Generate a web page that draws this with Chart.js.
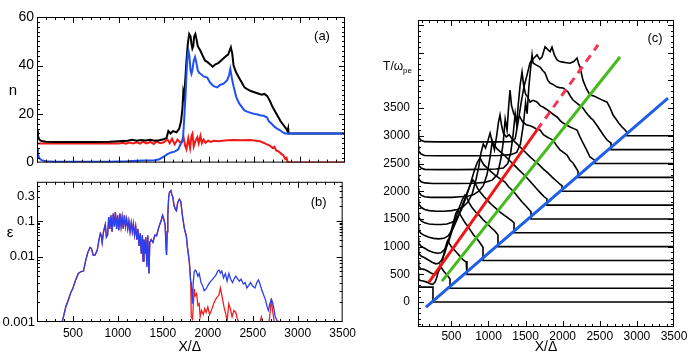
<!DOCTYPE html>
<html>
<head>
<meta charset="utf-8">
<script src="https://cdn.jsdelivr.net/npm/chart.js@4.4.1/dist/chart.umd.min.js"></script>
<style>
  body { margin: 0; background: #fff; }
  .panel { position: absolute; }
</style>
</head>
<body>
<div class="panel" style="left:0px;top:0px"><canvas id="chartA" width="360" height="174"></canvas></div>
<div class="panel" style="left:0px;top:172px"><canvas id="chartB" width="360" height="184"></canvas></div>
<div class="panel" style="left:360px;top:0px"><canvas id="chartC" width="330" height="356"></canvas></div>
<script>
// ---- panel (a): densities n(x) ----
var nBlack = [[100,13.3],[110,11],[125,9.5],[150,8.9],[200,8.6],[300,8.5],[500,8.5],[700,8.5],[900,8.6],[1000,8.8],[1100,9.0],[1150,9.4],[1200,9.0],[1250,9.3],[1300,9.1],[1350,9.4],[1400,9.0],[1450,9.2],[1500,9.6],[1530,10.2],[1550,13],[1575,12],[1600,13],[1640,12.5],[1670,14],[1690,17],[1705,22],[1715,29],[1725,27],[1735,33],[1750,42],[1765,49],[1780,53],[1795,52],[1805,49],[1815,47],[1825,48],[1835,52],[1848,53],[1860,51],[1875,48],[1890,47],[1905,46],[1930,44],[1955,42],[1980,41.5],[2010,40.5],[2040,39.5],[2070,40.5],[2100,41],[2130,42],[2160,43],[2190,44],[2210,44.5],[2225,46],[2240,47.5],[2255,45],[2270,40],[2300,37],[2330,35],[2360,33],[2390,31],[2420,30.3],[2460,29.5],[2500,29],[2540,28.5],[2580,28],[2610,28.3],[2640,27.5],[2670,25.5],[2700,23],[2730,21],[2760,19],[2790,17],[2820,15.5],[2850,14],[2865,13],[2872,14],[2875,12],[3500,12]];
var nBlue = [[100,5.5],[110,3.5],[125,1.8],[150,1.0],[200,0.6],[300,0.4],[500,0.3],[700,0.3],[900,0.4],[1100,0.6],[1200,0.8],[1300,0.9],[1400,1.0],[1450,1.4],[1500,2.5],[1540,3.5],[1580,4.2],[1620,4.5],[1660,5.5],[1690,8],[1710,9],[1725,18],[1740,28],[1752,38],[1763,44.6],[1772,46],[1782,44],[1795,38],[1805,36.6],[1815,38],[1830,42],[1845,43.5],[1860,41],[1875,38],[1890,37],[1905,36.6],[1940,35.5],[1980,35],[2010,33],[2050,31.5],[2090,31],[2120,32],[2160,32.5],[2200,34],[2220,36],[2234,38.6],[2250,35],[2270,31.5],[2300,27],[2330,24.5],[2360,23],[2390,21.5],[2420,21],[2460,20.5],[2500,20],[2528,19.9],[2560,19.5],[2600,19.3],[2638,18.7],[2660,17],[2690,16],[2720,14.8],[2750,14],[2784,13.3],[2810,12.5],[2840,12],[3500,12]];
var nRed = [[100,7.9],[300,7.9],[600,7.9],[900,8.0],[1000,7.9],[1050,8.2],[1080,7.8],[1120,8.3],[1160,7.9],[1200,8.4],[1240,7.8],[1270,8.6],[1310,7.9],[1350,8.5],[1390,7.7],[1420,8.7],[1460,8.0],[1500,8.4],[1540,9.5],[1565,8.0],[1590,9.8],[1620,7.5],[1650,9.5],[1690,8],[1717,10.5],[1735,7],[1750,5.5],[1770,10],[1790,6],[1805,11],[1816,12],[1830,6.7],[1850,9],[1870,10.5],[1885,8],[1904,11],[1920,8],[1940,9.5],[1960,8.2],[1990,9],[2020,8.5],[2050,9],[2100,8.8],[2150,9],[2200,9.2],[2270,9.3],[2350,9.2],[2454,9.3],[2520,9.0],[2560,8.8],[2600,8.2],[2638,7.5],[2670,7],[2700,6],[2720,6.5],[2740,5],[2770,4.5],[2800,3.5],[2820,3],[2840,1.5],[2855,2],[2865,0.5],[2872,0.3],[2875,0],[3500,0]];

// ---- panel (b): epsilon(x); blue and red coincide up to x~1810 ----
var epsShared = [[100,0.001],[380,0.001],[400,0.0013],[420,0.0017],[450,0.0022],[475,0.0028],[500,0.0033],[530,0.0044],[560,0.0055],[590,0.0059],[617,0.006],[640,0.0085],[665,0.013],[690,0.018],[705,0.017],[725,0.011],[745,0.011],[770,0.015],[790,0.03],[805,0.045],[815,0.04],[825,0.025],[840,0.05],[860,0.08],[872,0.035],[885,0.04],[898,0.12],[910,0.06],[922,0.13],[935,0.05],[948,0.14],[960,0.07],[972,0.15],[985,0.06],[997,0.13],[1010,0.055],[1022,0.14],[1035,0.07],[1047,0.12],[1060,0.06],[1072,0.13],[1085,0.07],[1097,0.11],[1110,0.06],[1122,0.1],[1135,0.05],[1148,0.09],[1160,0.05],[1172,0.085],[1185,0.04],[1198,0.07],[1210,0.03],[1222,0.06],[1235,0.02],[1248,0.045],[1260,0.012],[1272,0.04],[1280,0.0085],[1290,0.03],[1300,0.012],[1310,0.035],[1322,0.007],[1332,0.04],[1345,0.0055],[1355,0.025],[1370,0.03],[1390,0.025],[1410,0.04],[1430,0.038],[1450,0.06],[1465,0.08],[1480,0.1],[1497,0.13],[1510,0.11],[1525,0.08],[1535,0.02],[1541,0.011],[1548,0.05],[1555,0.13],[1565,0.3],[1574,0.37],[1590,0.4],[1600,0.33],[1610,0.3],[1625,0.2],[1640,0.17],[1651,0.16],[1665,0.23],[1684,0.27],[1700,0.24],[1717,0.13],[1740,0.06],[1761,0.038],[1775,0.017],[1794,0.0085],[1810,0.004]];
var epsBlueTail = [[1816,0.004],[1827,0.0019],[1838,0.004],[1849,0.0058],[1860,0.0062],[1871,0.006],[1890,0.005],[1904,0.0055],[1925,0.004],[1945,0.0035],[1960,0.003],[1981,0.0032],[2000,0.0036],[2020,0.004],[2047,0.0044],[2070,0.0048],[2090,0.0052],[2110,0.006],[2124,0.0062],[2140,0.0056],[2155,0.006],[2175,0.0047],[2195,0.0055],[2215,0.0042],[2234,0.0055],[2255,0.0045],[2275,0.004],[2295,0.0046],[2311,0.005],[2330,0.0046],[2350,0.0042],[2370,0.0045],[2395,0.0038],[2415,0.004],[2435,0.0033],[2454,0.0036],[2475,0.004],[2500,0.0035],[2525,0.0033],[2545,0.004],[2564,0.0044],[2580,0.0038],[2597,0.0032],[2620,0.0026],[2641,0.0022],[2660,0.0017],[2674,0.0015],[2690,0.0019],[2707,0.0022],[2720,0.002],[2735,0.0016],[2750,0.0012],[2770,0.00105],[2800,0.001],[3500,0.001]];
var epsRedTail = [[1816,0.0012],[1830,0.0011],[1849,0.0032],[1860,0.0025],[1875,0.0027],[1890,0.0018],[1904,0.0019],[1915,0.0012],[1930,0.0015],[1950,0.0013],[1965,0.0016],[1981,0.0014],[2000,0.0017],[2020,0.0013],[2047,0.0016],[2065,0.0019],[2085,0.0022],[2105,0.0024],[2124,0.0026],[2140,0.0033],[2150,0.0028],[2165,0.0022],[2180,0.0017],[2201,0.0013],[2215,0.00105],[2234,0.0019],[2250,0.0016],[2270,0.0012],[2290,0.0015],[2311,0.0014],[2330,0.0011],[2344,0.001],[2580,0.001],[2597,0.0012],[2610,0.001],[2680,0.001],[2696,0.0015],[2707,0.0023],[2720,0.0015],[2740,0.001],[3500,0.001]];

// ---- panel (c): stacked profiles, one per time ----
var profileTimes = [0,250,500,750,1000,1250,1500,1750,2000,2250,2500,2750,3000];
var profileCurves = [
  [[50,270],[252,270],[252,0],[3500,0]],
  [[50,520],[60,420],[80,390],[120,380],[170,360],[210,330],[250,320],[280,360],[305,450],[325,560],[347,668],[370,610],[395,560],[420,520],[450,470],[481,420],[481,250],[3500,250]],
  [[50,760],[60,640],[85,600],[130,590],[180,560],[230,520],[280,500],[320,540],[360,640],[390,820],[420,980],[440,1080],[454,1119],[470,1060],[500,1000],[540,940],[580,880],[620,820],[660,760],[700,720],[710,740],[710,500],[3500,500]],
  [[50,980],[60,880],[90,830],[140,800],[190,760],[240,720],[290,690],[330,700],[370,760],[410,880],[450,1060],[490,1250],[530,1450],[560,1600],[589,1661],[610,1600],[640,1530],[680,1440],[720,1370],[760,1290],[800,1210],[840,1150],[880,1080],[910,1020],[926,990],[926,750],[3500,750]],
  [[50,1160],[60,1060],[90,1010],[140,970],[190,930],[250,900],[310,880],[360,890],[410,950],[460,1080],[510,1290],[560,1520],[610,1720],[650,1860],[684,1931],[710,1880],[740,1790],[780,1700],[830,1620],[880,1560],[930,1480],[980,1420],[1030,1350],[1080,1290],[1110,1240],[1128,1210],[1128,1000],[3500,1000]],
  [[50,1390],[60,1290],[90,1240],[140,1200],[200,1170],[260,1150],[330,1140],[400,1150],[460,1200],[520,1320],[580,1500],[640,1720],[700,1930],[750,2100],[791,2202],[820,2150],[850,2060],[890,1980],[940,1900],[990,1830],[1040,1760],[1100,1690],[1160,1620],[1220,1560],[1280,1500],[1320,1460],[1344,1430],[1344,1250],[3500,1250]],
  [[50,1620],[60,1530],[90,1470],[140,1430],[200,1410],[280,1400],[360,1400],[440,1410],[510,1440],[580,1520],[640,1680],[700,1900],[760,2150],[810,2380],[850,2520],[886,2600],[910,2540],[940,2470],[980,2420],[1030,2360],[1080,2300],[1130,2250],[1180,2200],[1223,2166],[1270,2080],[1317,2022],[1360,1960],[1398,1895],[1450,1810],[1492,1751],[1540,1680],[1573,1630],[1573,1500],[3500,1500]],
  [[50,1860],[60,1770],[90,1710],[140,1670],[200,1650],[300,1640],[400,1640],[500,1650],[580,1670],[650,1710],[720,1800],[780,1950],[830,2200],[870,2450],[900,2700],[930,2850],[960,2780],[990,2900],[1021,3050],[1045,2920],[1080,2830],[1120,2760],[1170,2700],[1220,2640],[1280,2560],[1340,2480],[1400,2400],[1460,2320],[1520,2240],[1580,2150],[1640,2060],[1700,1970],[1750,1900],[1788,1860],[1788,1750],[3500,1750]],
  [[50,2060],[60,1980],[90,1930],[140,1900],[220,1890],[350,1890],[500,1890],[620,1900],[720,1910],[800,1940],[870,2000],[930,2100],[980,2300],[1020,2600],[1050,2900],[1080,2750],[1110,3000],[1135,3250],[1155,3375],[1175,3200],[1200,3050],[1240,2980],[1280,3020],[1320,2940],[1380,2860],[1440,2780],[1500,2700],[1560,2620],[1620,2550],[1680,2480],[1740,2400],[1800,2330],[1860,2250],[1920,2180],[1970,2120],[1991,2100],[1991,2000],[3500,2000]],
  [[50,2300],[60,2220],[90,2170],[140,2150],[250,2140],[400,2140],[600,2140],[800,2145],[950,2160],[1050,2200],[1120,2300],[1170,2600],[1200,2900],[1225,3300],[1250,3100],[1270,3500],[1290,3827],[1310,3550],[1340,3400],[1380,3300],[1420,3350],[1460,3250],[1510,3200],[1560,3180],[1600,3159],[1650,3120],[1695,3105],[1740,3020],[1789,2978],[1830,2950],[1870,2924],[1920,2820],[1964,2744],[2010,2700],[2058,2653],[2100,2560],[2139,2509],[2180,2420],[2206,2360],[2206,2250],[3500,2250]],
  [[50,2560],[60,2470],[90,2420],[140,2395],[300,2390],[600,2390],[900,2395],[1100,2400],[1200,2420],[1260,2500],[1300,2700],[1330,3000],[1360,3400],[1380,3200],[1400,3550],[1425,3900],[1452,4151],[1475,3900],[1500,3750],[1530,3700],[1560,3610],[1600,3640],[1654,3610],[1700,3540],[1735,3520],[1780,3480],[1830,3430],[1880,3380],[1924,3340],[1970,3270],[2005,3231],[2050,3200],[2099,3159],[2150,3130],[2193,3105],[2230,2990],[2274,2870],[2320,2750],[2368,2617],[2410,2580],[2435,2560],[2435,2500],[3500,2500]],
  [[50,2820],[60,2720],[90,2670],[140,2645],[300,2640],[600,2640],[900,2640],[1150,2645],[1300,2660],[1380,2700],[1430,2850],[1470,3200],[1500,3600],[1520,3400],[1545,3900],[1570,4250],[1587,4460],[1600,4314],[1640,4280],[1695,4240],[1730,4180],[1762,4133],[1800,4000],[1830,3953],[1880,3920],[1924,3880],[1960,3870],[2005,3863],[2040,3830],[2072,3790],[2110,3700],[2139,3646],[2200,3580],[2274,3500],[2310,3430],[2342,3375],[2380,3320],[2409,3285],[2460,3190],[2503,3105],[2550,3010],[2598,2924],[2630,2890],[2651,2870],[2651,2750],[3500,2750]],
  [[50,3080],[60,2970],[90,2920],[140,2895],[300,2890],[600,2890],[900,2890],[1150,2890],[1300,2895],[1360,2950],[1400,3250],[1440,3600],[1480,3900],[1520,4100],[1560,4320],[1610,4400],[1654,4460],[1690,4380],[1721,4420],[1762,4608],[1803,4550],[1830,4520],[1856,4600],[1890,4450],[1924,4370],[1960,4340],[2005,4330],[2050,4320],[2099,4310],[2150,4340],[2193,4404],[2215,4300],[2233,4240],[2274,4000],[2320,3850],[2368,3736],[2420,3720],[2480,3680],[2540,3640],[2598,3610],[2640,3500],[2679,3375],[2720,3300],[2760,3220],[2800,3160],[2841,3105],[2867,3060],[2867,3000],[3500,3000]]
];
var redLineSolid = [[198,361],[1654,3105]];
var redLineDashed = [[1654,3105],[2476,4639]];
var greenLine = [[373,379],[2772,4422]];
var blueLine = [[158,-90],[3419,3682]];

var xTicks = [500,1000,1500,2000,2500,3000,3500];
var nTicks = [0,20,40,60];
var epsTicks = [0.001,0.01,0.1,0.3];
var epsTickLabels = ["0.001","0.01","0.1","0.3"];
var timeTicks = [0,500,1000,1500,2000,2500,3000,3500];

var FONT = "'Liberation Sans', Arial, sans-serif";
Chart.defaults.font.family = FONT;
Chart.defaults.color = "#000";

function pts(arr) {
    return arr.map((p) => ({ x: p[0], y: p[1] }));
}
function range(a, b, step) {
    var out = [];
    for (var v = a; v <= b + 1e-9; v += step) out.push(v);
    return out;
}
function plain(v) {
    return String(v);
}

// the epsilon axis of the original is a log axis whose decades are not evenly spaced
var epsAnchors = [0.001, 0.01, 0.1, 0.3, 0.6];
var epsDecimals = [0, 0.467, 0.72, 0.893, 1];
function warp(v) {
    var l = Math.log10(Math.max(v, 1e-5));
    var L = epsAnchors.map(Math.log10);
    var i = 0;
    while (i < L.length - 2 && l > L[i + 1]) i++;
    return epsDecimals[i] + ((l - L[i]) / (L[i + 1] - L[i])) * (epsDecimals[i + 1] - epsDecimals[i]);
}
function unwarp(d) {
    var L = epsAnchors.map(Math.log10);
    var i = 0;
    while (i < L.length - 2 && d > epsDecimals[i + 1]) i++;
    var l = L[i] + ((d - epsDecimals[i]) / (epsDecimals[i + 1] - epsDecimals[i])) * (L[i + 1] - L[i]);
    return Math.pow(10, l);
}
var LinearScale = Chart.LinearScale || Chart.registry.getScale("linear");
class WarpLogScale extends LinearScale {
    getPixelForValue(value) {
        return this.getPixelForDecimal(warp(value));
    }
    getValueForPixel(pixel) {
        return unwarp(this.getDecimalForPixel(pixel));
    }
}
WarpLogScale.id = "warplog";
WarpLogScale.defaults = {};
Chart.register(WarpLogScale);

// frame with inward tick marks on all four sides
var frameTicks = {
    id: "frameTicks",
    afterDatasetsDraw(chart, args, opts) {
        var ctx = chart.ctx, a = chart.chartArea;
        var sx = chart.scales.x, sy = chart.scales.y;
        ctx.save();
        ctx.strokeStyle = "#000";
        ctx.lineWidth = 1;
        ctx.beginPath();
        function xt(list, len) {
            list.forEach((v) => {
                var p = Math.round(sx.getPixelForValue(v)) + 0.5;
                if (p < a.left || p > a.right) return;
                ctx.moveTo(p, a.bottom); ctx.lineTo(p, a.bottom - len);
                ctx.moveTo(p, a.top); ctx.lineTo(p, a.top + len);
            });
        }
        function yt(list, len) {
            list.forEach((v) => {
                var p = Math.round(sy.getPixelForValue(v)) + 0.5;
                if (p < a.top || p > a.bottom) return;
                ctx.moveTo(a.left, p); ctx.lineTo(a.left + len, p);
                ctx.moveTo(a.right, p); ctx.lineTo(a.right - len, p);
            });
        }
        xt(opts.xMinor, 3); xt(opts.xMajor, 6);
        yt(opts.yMinor, 3); yt(opts.yMajor, 6);
        ctx.stroke();
        ctx.strokeRect(a.left + 0.5, a.top + 0.5, a.width - 1, a.height - 1);
        ctx.restore();
    },
};
// panel letter, upright y title and the T/w_pe label
var panelTag = {
    id: "panelTag",
    afterDraw(chart, args, opts) {
        var ctx = chart.ctx, a = chart.chartArea;
        ctx.save();
        ctx.fillStyle = "#000";
        ctx.font = "13px " + FONT;
        ctx.textAlign = "center";
        ctx.textBaseline = "middle";
        ctx.fillText(opts.text, a.right - opts.dx, a.top + opts.dy);
        if (opts.yTitle) {
            ctx.font = "15px " + FONT;
            ctx.fillText(opts.yTitle, opts.tx, opts.ty);
        }
        if (opts.timeLabel) {
            var y = chart.scales.y.getPixelForValue(4250);
            ctx.textAlign = "left";
            ctx.font = "12px " + FONT;
            var w1 = ctx.measureText("T/\u03c9").width;
            ctx.font = "8px " + FONT;
            var w2 = ctx.measureText("pe").width;
            var x0 = a.left - 6 - w1 - w2;
            ctx.font = "12px " + FONT;
            ctx.fillText("T/\u03c9", x0, y);
            ctx.font = "8px " + FONT;
            ctx.fillText("pe", x0 + w1, y + 4);
        }
        ctx.restore();
    },
};

var baseOptions = {
    responsive: false,
    animation: false,
    devicePixelRatio: 1,
    elements: { point: { radius: 0 }, line: { tension: 0 } },
};
function plugOpts(extra) {
    return Object.assign({ legend: { display: false }, tooltip: { enabled: false } }, extra);
}

//-------------
//- Panel (a) -
//-------------
new Chart(document.getElementById("chartA"), {
    type: "line",
    data: {
        datasets: [
            { data: pts(nBlue), borderColor: "#1f50f2", borderWidth: 2 },
            { data: pts(nBlack), borderColor: "#000000", borderWidth: 2 },
            { data: pts(nRed), borderColor: "#f01818", borderWidth: 2 },
        ],
    },
    options: Object.assign({}, baseOptions, {
        layout: { padding: { top: 17, right: 15, bottom: 2, left: 0 } },
        plugins: plugOpts({
            frameTicks: { xMajor: xTicks, xMinor: range(100, 3500, 100), yMajor: nTicks, yMinor: range(0, 60, 2) },
            panelTag: { text: "(a)", dx: 23, dy: 19, yTitle: "n", tx: 13, ty: 91 },
        }),
        scales: {
            x: { type: "linear", min: 100, max: 3500, display: false },
            y: {
                type: "linear", min: 0, max: 60,
                afterBuildTicks: (s) => { s.ticks = nTicks.map((v) => ({ value: v })); },
                afterFit: (s) => { s.width = 37; },
                ticks: { font: { size: 14 }, padding: 3, callback: plain },
                grid: { display: false, drawTicks: false },
                border: { display: false },
            },
        },
    }),
    plugins: [frameTicks, panelTag],
});

//-------------
//- Panel (b) -
//-------------
new Chart(document.getElementById("chartB"), {
    type: "line",
    data: {
        datasets: [
            { data: pts(epsShared.concat(epsBlueTail)), borderColor: "#2a3ff0", borderWidth: 1.3 },
            { data: pts(epsShared.concat(epsRedTail)), borderColor: "#f02020", borderWidth: 1.3 },
        ],
    },
    options: Object.assign({}, baseOptions, {
        layout: { padding: { top: 0, right: 15, bottom: 0, left: 0 } },
        plugins: plugOpts({
            frameTicks: {
                xMajor: xTicks, xMinor: range(100, 3500, 100),
                yMajor: [0.001, 0.01, 0.1],
                yMinor: [0.002,0.003,0.004,0.005,0.006,0.007,0.008,0.009,0.02,0.03,0.04,0.05,0.06,0.07,0.08,0.09,0.2,0.3,0.4,0.5],
            },
            panelTag: { text: "(b)", dx: 24, dy: 21, yTitle: "\u03b5", tx: 10, ty: 61 },
        }),
        scales: {
            x: {
                type: "linear", min: 100, max: 3500,
                afterBuildTicks: (s) => { s.ticks = xTicks.map((v) => ({ value: v })); },
                afterFit: (s) => { s.height = 34; },
                ticks: { font: { size: 12 }, padding: 4, maxRotation: 0, autoSkip: false, callback: plain },
                grid: { display: false, drawTicks: false },
                border: { display: false },
                title: { display: true, text: "X/\u0394", font: { size: 14 }, padding: { top: 0, bottom: 0 } },
            },
            y: {
                type: "warplog", min: 0.001, max: 0.6,
                afterBuildTicks: (s) => { s.ticks = epsTicks.map((v) => ({ value: v })); },
                afterFit: (s) => { s.width = 37; },
                ticks: {
                    font: { size: 13 }, padding: 2,
                    callback: (v) => epsTickLabels[epsTicks.indexOf(v)] || "",
                },
                grid: { display: false, drawTicks: false },
                border: { display: false },
            },
        },
    }),
    plugins: [frameTicks, panelTag],
});

//-------------
//- Panel (c) -
//-------------
var cSets = [
    { data: pts(redLineSolid), borderColor: "#f01414", borderWidth: 3 },
    { data: pts(redLineDashed), borderColor: "#f5334f", borderWidth: 3, borderDash: [8, 6] },
    { data: pts(greenLine), borderColor: "#44bb1c", borderWidth: 3 },
    { data: pts(blueLine), borderColor: "#1f5fe8", borderWidth: 3 },
];
profileCurves.forEach((curve, i) => {
    cSets.push({ label: "T=" + profileTimes[i], data: pts(curve), borderColor: "#000", borderWidth: 1.6 });
});

new Chart(document.getElementById("chartC"), {
    type: "line",
    data: { datasets: cSets },
    options: Object.assign({}, baseOptions, {
        layout: { padding: { top: 20, right: 16, bottom: 0, left: 0 } },
        plugins: plugOpts({
            frameTicks: { xMajor: xTicks, xMinor: range(100, 3500, 100), yMajor: range(0, 5000, 500), yMinor: range(-400, 5000, 100) },
            panelTag: { text: "(c)", dx: 19, dy: 18, timeLabel: true },
        }),
        scales: {
            x: {
                type: "linear", min: 50, max: 3500,
                afterBuildTicks: (s) => { s.ticks = xTicks.map((v) => ({ value: v })); },
                afterFit: (s) => { s.height = 29; },
                ticks: { font: { size: 12 }, padding: 2, maxRotation: 0, autoSkip: false, callback: plain },
                grid: { display: false, drawTicks: false },
                border: { display: false },
                title: { display: true, text: "X/\u0394", font: { size: 14 }, padding: { top: 0, bottom: 0 } },
            },
            y: {
                type: "linear", min: -450, max: 5090,
                afterBuildTicks: (s) => { s.ticks = timeTicks.map((v) => ({ value: v })); },
                afterFit: (s) => { s.width = 58; },
                ticks: { font: { size: 12 }, padding: 8, callback: plain },
                grid: { display: false, drawTicks: false },
                border: { display: false },
            },
        },
    }),
    plugins: [frameTicks, panelTag],
});
</script>
</body>
</html>
